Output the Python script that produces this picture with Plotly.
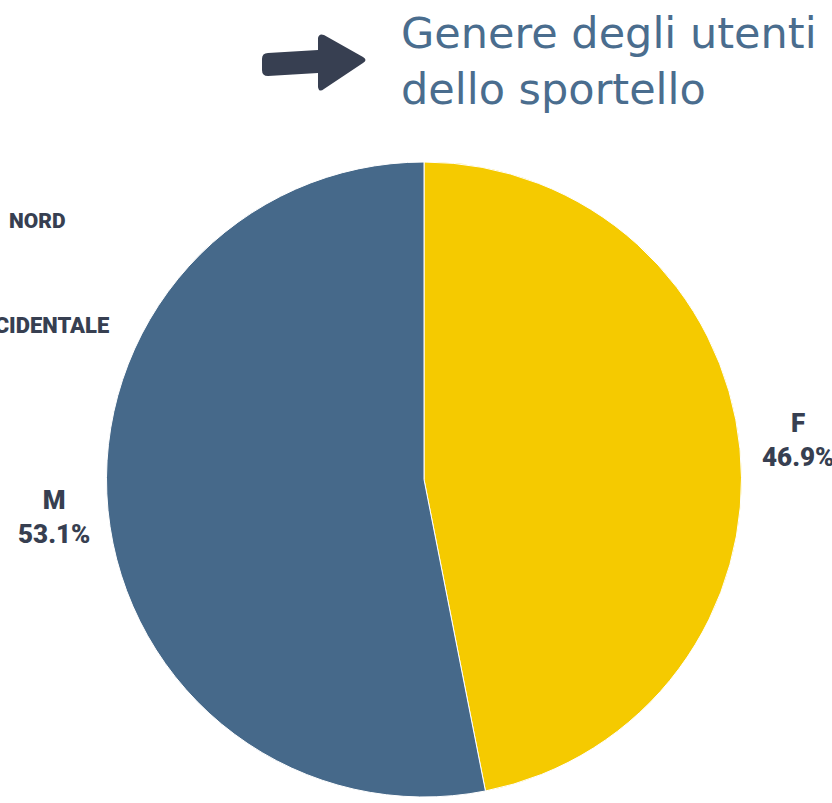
import plotly.graph_objects as go

W, H = 832, 803

labels = ["F", "M"]
values = [46.9, 53.1]
colors = ["#F5CA00", "#46698A"]
title_lines = ["Genere degli utenti", "dello sportello"]
side_words = ["NORD", "OCCIDENTALE"]

DARK = "#373F51"
TITLE_COL = "#4A6D8E"
LABEL_FONT = "Roboto, Lato, sans-serif"


def px(x):
    return x / W


def py(y):
    return 1 - y / H


fig = go.Figure(
    go.Pie(
        labels=labels,
        values=values,
        marker=dict(colors=colors, line=dict(color="white", width=1)),
        sort=False,
        direction="clockwise",
        rotation=0,
        textinfo="none",
        hoverinfo="label+percent",
        showlegend=False,
        domain=dict(x=[px(106), px(742)], y=[py(797), py(162)]),
    )
)

annotations = []
# slice labels
label_pos = {"F": (798, 440), "M": (54, 517)}
for lab, val in zip(labels, values):
    x, y = label_pos[lab]
    annotations.append(dict(
        text=f"{lab}<br>{val:.1f}%",
        x=px(x), y=py(y), xref="paper", yref="paper",
        xanchor="center", yanchor="middle", showarrow=False,
        font=dict(family=LABEL_FONT, size=26, weight=900, color=DARK),
    ))

# cropped words on the left
annotations.append(dict(
    text=side_words[0], x=px(7), y=py(221), xref="paper", yref="paper",
    xanchor="left", yanchor="middle", showarrow=False,
    font=dict(family=LABEL_FONT, size=21, weight=900, color=DARK),
))
annotations.append(dict(
    text=side_words[1], x=px(111), y=py(325), xref="paper", yref="paper",
    xanchor="right", yanchor="middle", showarrow=False,
    font=dict(family=LABEL_FONT, size=22, weight=900, color=DARK),
))

# title (two lines)
annotations.append(dict(
    text="<br>".join(title_lines), x=px(399), y=py(61), xref="paper", yref="paper",
    xanchor="left", yanchor="middle", align="left", showarrow=False,
    font=dict(family="DejaVu Sans, sans-serif", size=43, color=TITLE_COL),
))

# arrow decoration
pts = [
    ("M", 268, 53), ("L", 318, 50), ("L", 318, 38), ("Q", 319, 33, 324, 35),
    ("L", 363, 57), ("Q", 368, 60, 363, 63), ("L", 324, 89), ("Q", 319, 93, 318, 87),
    ("L", 318, 73), ("L", 268, 76), ("Q", 262, 76, 262, 70), ("L", 262, 59),
    ("Q", 262, 53, 268, 53),
]
path = ""
for p in pts:
    cmd = p[0]
    coords = p[1:]
    s = []
    for j in range(0, len(coords), 2):
        s.append(f"{px(coords[j]):.5f},{py(coords[j+1]):.5f}")
    path += cmd + " " + " ".join(s) + " "
path += "Z"

fig.update_layout(
    width=W, height=H,
    margin=dict(l=0, r=0, t=0, b=0),
    paper_bgcolor="white", plot_bgcolor="white",
    annotations=annotations,
    shapes=[dict(type="path", path=path, xref="paper", yref="paper",
                 fillcolor=DARK, line=dict(width=0), layer="above")],
)

fig.write_html("out.html", config={"displayModeBar": False},
               post_script="document.body.style.margin='0';")
